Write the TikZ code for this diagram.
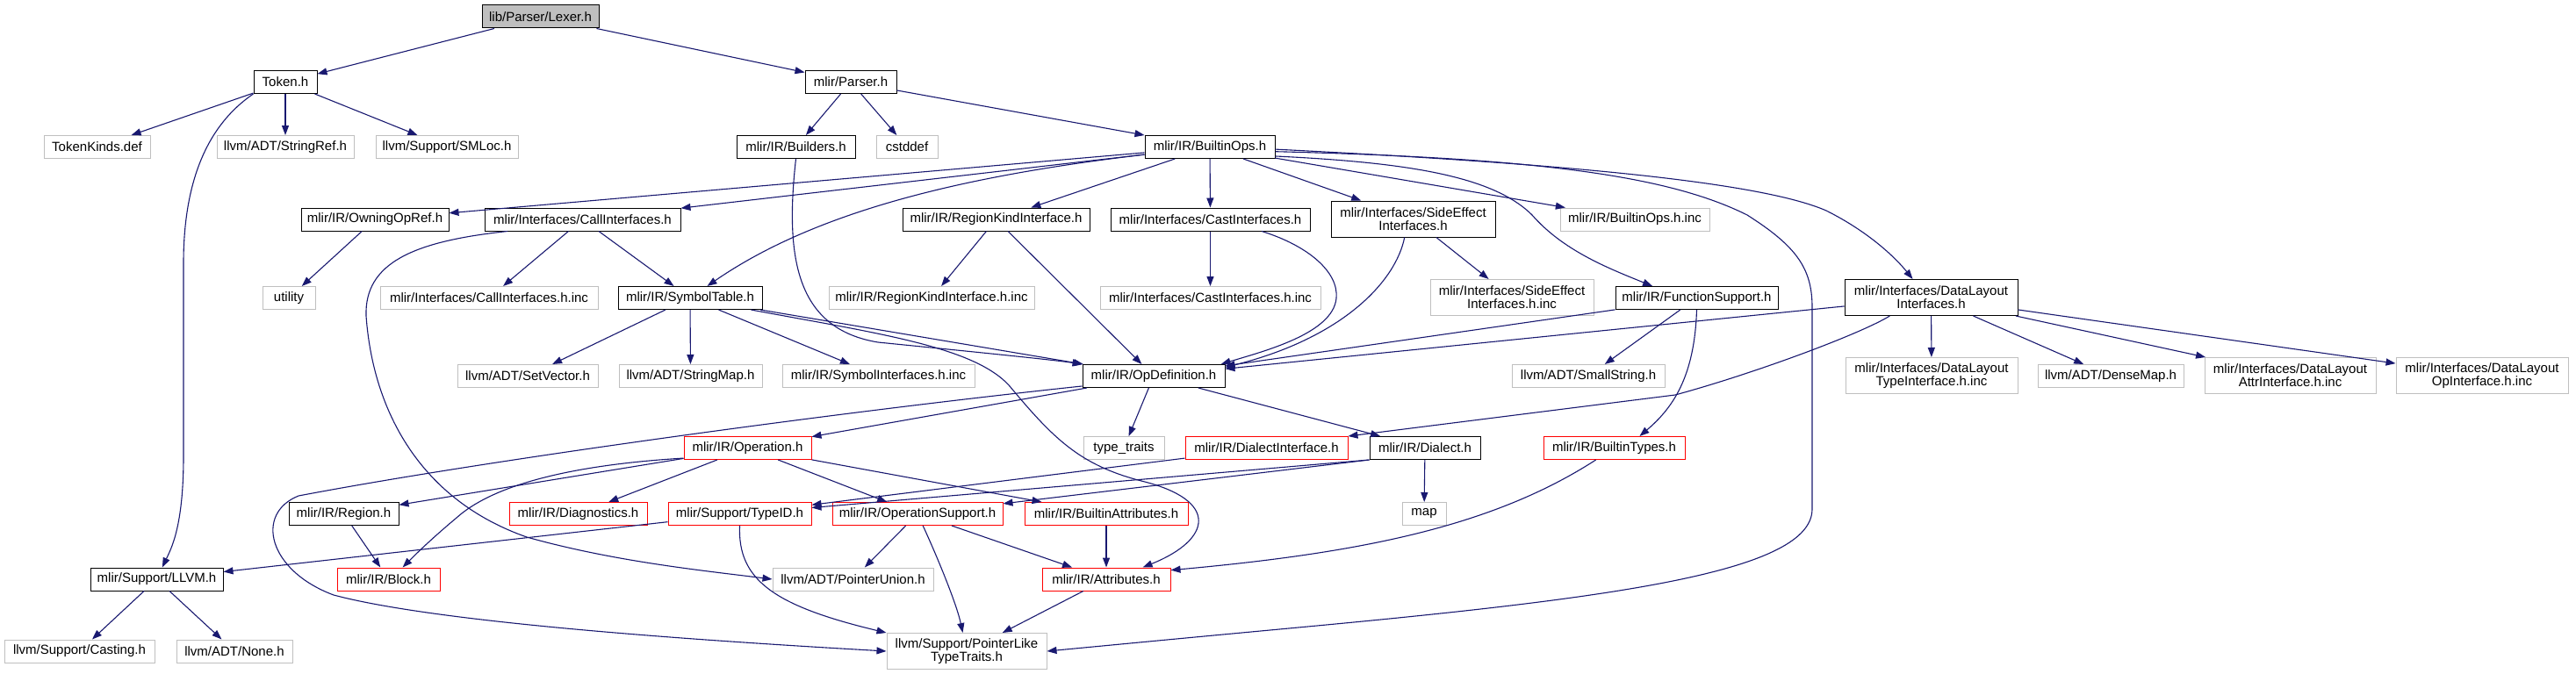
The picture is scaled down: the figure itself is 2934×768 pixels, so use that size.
\documentclass[tikz,border=0pt]{standalone}
\usepackage{fontspec}
\setmainfont{Liberation Sans}
\usetikzlibrary{arrows.meta}
\definecolor{edgeblue}{HTML}{191970}
\definecolor{extgray}{HTML}{BFBFBF}
\definecolor{truncred}{HTML}{FF0000}
\tikzset{
        box/.style={draw, line width=1pt, fill=white, inner xsep=2pt, inner ysep=1pt, minimum height=26, align=center, font=\fontsize{15}{15}\selectfont},
        hdr/.style={box, draw=black},
        rootbox/.style={box, draw=black, fill=extgray},
        extbox/.style={box, draw=extgray},
        trunc/.style={box, draw=truncred},
        twoline/.style={minimum height=41},
        dep/.style={draw=edgeblue, line width=1.1pt, -{Triangle[length=11pt,width=8pt]}}
}

\begin{document}
\begin{tikzpicture}[x=1pt, y=-1pt]
        \useasboundingbox (0,0) rectangle (2934,768);
        \node[rootbox, minimum width=133] (lexer) at (615.5,19) {lib/Parser/Lexer.h};
        \node[hdr, minimum width=72] (token) at (325,93.5) {Token.h};
        \node[hdr, minimum width=104] (parser) at (969,93.5) {mlir/Parser.h};
        \node[extbox, minimum width=121] (tokenkinds) at (110.5,167.5) {TokenKinds.def};
        \node[extbox, minimum width=156] (stringref) at (325,167.5) {llvm/ADT/StringRef.h};
        \node[extbox, minimum width=162] (smloc) at (509,167.5) {llvm/Support/SMLoc.h};
        \node[hdr, minimum width=135] (builders) at (906.5,167.5) {mlir/IR/Builders.h};
        \node[extbox, minimum width=70] (cstddef) at (1033,167.5) {cstddef};
        \node[hdr, minimum width=148] (builtinops) at (1378,167.5) {mlir/IR/BuiltinOps.h};
        \node[hdr, minimum width=168] (owningopref) at (427,250) {mlir/IR/OwningOpRef.h};
        \node[hdr, minimum width=223] (callif) at (663.5,250) {mlir/Interfaces/CallInterfaces.h};
        \node[hdr, minimum width=213] (regionkind) at (1134.5,250) {mlir/IR/RegionKindInterface.h};
        \node[hdr, minimum width=227] (castif) at (1378.5,250) {mlir/Interfaces/CastInterfaces.h};
        \node[hdr, twoline, minimum width=187] (sideeffect) at (1609.5,249.5) {mlir/Interfaces/SideEffect\\Interfaces.h};
        \node[extbox, minimum width=170] (builtinopsinc) at (1862,250) {mlir/IR/BuiltinOps.h.inc};
        \node[extbox, minimum width=60] (utility) at (329,339.5) {utility};
        \node[extbox, minimum width=248] (callifinc) at (557,339.5) {mlir/Interfaces/CallInterfaces.h.inc};
        \node[hdr, minimum width=164] (symboltable) at (786,339.5) {mlir/IR/SymbolTable.h};
        \node[extbox, minimum width=234] (regionkindinc) at (1061,339.5) {mlir/IR/RegionKindInterface.h.inc};
        \node[extbox, minimum width=251] (castifinc) at (1378.5,339.5) {mlir/Interfaces/CastInterfaces.h.inc};
        \node[extbox, twoline, minimum width=186] (sideeffectinc) at (1722,339) {mlir/Interfaces/SideEffect\\Interfaces.h.inc};
        \node[hdr, minimum width=185] (functionsupport) at (1932.5,339.5) {mlir/IR/FunctionSupport.h};
        \node[hdr, twoline, minimum width=197] (datalayout) at (2199.5,339) {mlir/Interfaces/DataLayout\\Interfaces.h};
        \node[extbox, minimum width=160] (setvector) at (601,428.5) {llvm/ADT/SetVector.h};
        \node[extbox, minimum width=163] (stringmap) at (786.5,428.5) {llvm/ADT/StringMap.h};
        \node[extbox, minimum width=219] (symbolifinc) at (1000.5,428.5) {mlir/IR/SymbolInterfaces.h.inc};
        \node[hdr, minimum width=162] (opdefinition) at (1314,428.5) {mlir/IR/OpDefinition.h};
        \node[extbox, minimum width=174] (smallstring) at (1809,428.5) {llvm/ADT/SmallString.h};
        \node[extbox, twoline, minimum width=196] (dltypeinc) at (2200,428) {mlir/Interfaces/DataLayout\\TypeInterface.h.inc};
        \node[extbox, minimum width=166] (densemap) at (2404,428.5) {llvm/ADT/DenseMap.h};
        \node[extbox, twoline, minimum width=195] (dlattrinc) at (2608.5,428) {mlir/Interfaces/DataLayout\\AttrInterface.h.inc};
        \node[extbox, twoline, minimum width=196] (dlopinc) at (2827,428) {mlir/Interfaces/DataLayout\\OpInterface.h.inc};
        \node[trunc, minimum width=145] (operation) at (851.5,510.5) {mlir/IR/Operation.h};
        \node[extbox, minimum width=92] (typetraits) at (1280,510.5) {type\_traits};
        \node[trunc, minimum width=185] (dialectif) at (1442.5,510.5) {mlir/IR/DialectInterface.h};
        \node[hdr, minimum width=126] (dialect) at (1623,510.5) {mlir/IR/Dialect.h};
        \node[trunc, minimum width=161] (builtintypes) at (1838.5,510.5) {mlir/IR/BuiltinTypes.h};
        \node[hdr, minimum width=125] (region) at (391.5,585.5) {mlir/IR/Region.h};
        \node[trunc, minimum width=157] (diagnostics) at (658.5,585.5) {mlir/IR/Diagnostics.h};
        \node[trunc, minimum width=163] (typeid) at (842.5,585.5) {mlir/Support/TypeID.h};
        \node[trunc, minimum width=194] (opsupport) at (1045,585.5) {mlir/IR/OperationSupport.h};
        \node[trunc, minimum width=186] (builtinattrs) at (1260,585.5) {mlir/IR/BuiltinAttributes.h};
        \node[extbox, minimum width=50] (map) at (1622,585.5) {map};
        \node[hdr, minimum width=151] (llvmh) at (178.5,660) {mlir/Support/LLVM.h};
        \node[trunc, minimum width=117] (block) at (442.5,660) {mlir/IR/Block.h};
        \node[extbox, minimum width=183] (pointerunion) at (971.5,660) {llvm/ADT/PointerUnion.h};
        \node[trunc, minimum width=146] (attributes) at (1260,660) {mlir/IR/Attributes.h};
        \node[extbox, minimum width=171] (casting) at (90.5,742) {llvm/Support/Casting.h};
        \node[extbox, minimum width=132] (none) at (267,742) {llvm/ADT/None.h};
        \node[extbox, twoline, minimum width=182] (pointerlike) at (1101,742) {llvm/Support/PointerLike\\TypeTraits.h};

        \draw[dep] (lexer) -- (token);
        \draw[dep] (lexer) -- (parser);
        \draw[dep] (token) -- (tokenkinds);
        \draw[dep] (token) -- (stringref);
        \draw[dep] (token) -- (smloc);
        \draw[dep] (token.south west) .. controls (240,140) and (209,200) .. (209,300) -- (209,520) .. controls (209,600) and (195,625) .. (llvmh);
        \draw[dep] (parser) -- (builders);
        \draw[dep] (parser) -- (cstddef);
        \draw[dep] (parser) -- (builtinops);
        \draw[dep] (builders.south) .. controls (893,300) and (910,375) .. (1000,390) .. controls (1100,400) and (1200,410) .. (opdefinition.north west);
        \draw[dep] (builtinops) -- (owningopref);
        \draw[dep] (builtinops) -- (callif);
        \draw[dep] (builtinops) .. controls (1100,200) and (930,240) .. (symboltable);
        \draw[dep] (builtinops) -- (regionkind);
        \draw[dep] (builtinops) -- (castif);
        \draw[dep] (builtinops) -- (sideeffect);
        \draw[dep] (builtinops) -- (builtinopsinc);
        \draw[dep] (builtinops.-8) .. controls (1600,185) and (1700,200) .. (1745,245) .. controls (1780,285) and (1830,305) .. (functionsupport.165);
        \draw[dep] (builtinops.-2) .. controls (1750,185) and (2000,205) .. (2080,240) .. controls (2130,265) and (2160,295) .. (datalayout.135);
        \draw[dep] (builtinops.-4) .. controls (1750,180) and (1900,200) .. (1990,245) .. controls (2045,280) and (2064,305) .. (2064,350) -- (2064,580) .. controls (2064,650) and (1850,680) .. (1500,713) .. controls (1350,727) .. (pointerlike.east);
        \draw[dep] (owningopref) -- (utility);
        \draw[dep] (callif) -- (callifinc);
        \draw[dep] (callif) -- (symboltable);
        \draw[dep] (callif.189) .. controls (470,275) and (415,300) .. (417,360) .. controls (425,470) and (480,570) .. (600,612) .. controls (700,640) and (800,650) .. (pointerunion.west);
        \draw[dep] (regionkind) -- (regionkindinc);
        \draw[dep] (regionkind) -- (opdefinition);
        \draw[dep] (castif) -- (castifinc);
        \draw[dep] (castif.-13) .. controls (1490,280) and (1525,310) .. (1522,340) .. controls (1518,380) and (1440,400) .. (opdefinition.10);
        \draw[dep] (sideeffect) -- (sideeffectinc);
        \draw[dep] (sideeffect.-115) .. controls (1590,320) and (1530,385) .. (opdefinition.7);
        \draw[dep] (functionsupport) -- (opdefinition);
        \draw[dep] (functionsupport) -- (smallstring);
        \draw[dep] (functionsupport.south) .. controls (1930,430) and (1905,465) .. (builtintypes.25);
        \draw[dep] (datalayout) -- (opdefinition);
        \draw[dep] (datalayout.-156) .. controls (2120,380) and (2000,425) .. (1908,450) -- (dialectif.north east);
        \draw[dep] (datalayout) -- (dltypeinc);
        \draw[dep] (datalayout) -- (densemap);
        \draw[dep] (datalayout) -- (dlattrinc);
        \draw[dep] (datalayout) -- (dlopinc);
        \draw[dep] (symboltable) -- (setvector);
        \draw[dep] (symboltable) -- (stringmap);
        \draw[dep] (symboltable) -- (symbolifinc);
        \draw[dep] (symboltable) -- (opdefinition);
        \draw[dep] (symboltable.-11) .. controls (1000,380) and (1110,395) .. (1150,440) .. controls (1200,500) and (1230,530) .. (1300,548) .. controls (1390,570) and (1380,615) .. (attributes.18);
        \draw[dep] (opdefinition.188) .. controls (950,470) and (550,525) .. (340,565) .. controls (290,585) and (305,650) .. (380,678) .. controls (500,710) and (800,730) .. (pointerlike.west);
        \draw[dep] (opdefinition) -- (operation);
        \draw[dep] (opdefinition) -- (typetraits);
        \draw[dep] (opdefinition) -- (dialect);
        \draw[dep] (operation) -- (region);
        \draw[dep] (operation.-171) .. controls (680,528) and (570,545) .. (520,590) .. controls (490,615) and (470,635) .. (block.40);
        \draw[dep] (operation) -- (diagnostics);
        \draw[dep] (operation) -- (opsupport);
        \draw[dep] (operation) -- (builtinattrs);
        \draw[dep] (dialectif) -- (typeid);
        \draw[dep] (dialect.south west) -- (typeid);
        \draw[dep] (dialect.south west) -- (opsupport);
        \draw[dep] (dialect) -- (map);
        \draw[dep] (builtintypes) .. controls (1700,600) and (1550,630) .. (attributes.8);
        \draw[dep] (region) -- (block);
        \draw[dep] (typeid) -- (llvmh);
        \draw[dep] (typeid.south) .. controls (840,660) and (880,690) .. (pointerlike.north west);
        \draw[dep] (opsupport) -- (pointerunion);
        \draw[dep] (opsupport) .. controls (1070,640) and (1090,690) .. (pointerlike);
        \draw[dep] (opsupport) -- (attributes);
        \draw[dep] (builtinattrs) -- (attributes);
        \draw[dep] (attributes) -- (pointerlike);
        \draw[dep] (llvmh) -- (casting);
        \draw[dep] (llvmh) -- (none);
\end{tikzpicture}
\end{document}
